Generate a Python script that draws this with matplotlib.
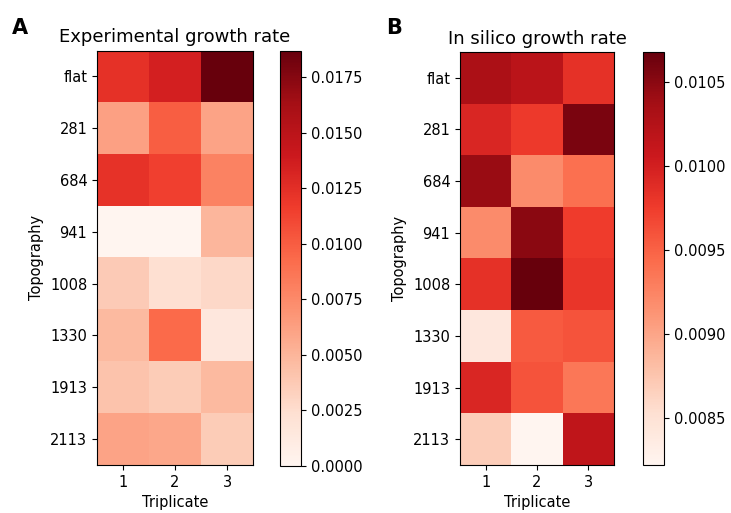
import numpy as np
import matplotlib
matplotlib.use("Agg")
import matplotlib.pyplot as plt

topographies = ["flat", "281", "684", "941", "1008", "1330", "1913", "2113"]
triplicates = ["1", "2", "3"]

# experimental growth rate, rows = topography, cols = triplicate
exp_rate = [
    [0.0123, 0.0135, 0.0187],
    [0.0062, 0.0099, 0.0060],
    [0.0122, 0.0114, 0.0079],
    [0.0000, 0.0000, 0.0049],
    [0.0037, 0.0023, 0.0028],
    [0.0047, 0.0093, 0.0015],
    [0.0041, 0.0036, 0.0047],
    [0.0060, 0.0058, 0.0036],
]

# in silico growth rate
sim_rate = [
    [0.01031, 0.01019, 0.00984],
    [0.00994, 0.00977, 0.01058],
    [0.01043, 0.00920, 0.00940],
    [0.00920, 0.01050, 0.00975],
    [0.00984, 0.01068, 0.00980],
    [0.00842, 0.00955, 0.00960],
    [0.00994, 0.00960, 0.00935],
    [0.00869, 0.00822, 0.01016],
]

plt.rcParams['font.size'] = 10.5

fig = plt.figure(figsize=(7.31, 5.13), dpi=100)
W, H = 731.0, 513.0

def px(x0, y0, x1, y1):
    return [x0/W, 1 - y1/H, (x1 - x0)/W, (y1 - y0)/H]

panels = [
    (exp_rate, "Experimental growth rate", "A", px(97, 50.5, 253, 465), px(280, 50.5, 301, 466), 12),
    (sim_rate, "In silico growth rate", "B", px(460, 52, 614, 465), px(643, 52, 664, 465), 386),
]

for data, title, letter, axpos, cpos, lx in panels:
    arr = np.array(data)
    ax = fig.add_axes(axpos)
    im = ax.imshow(arr, cmap="Reds", aspect="auto", interpolation="nearest")
    ax.set_xticks(range(len(triplicates)))
    ax.set_xticklabels(triplicates)
    ax.set_yticks(range(len(topographies)))
    ax.set_yticklabels(topographies)
    ax.set_xlabel("Triplicate", labelpad=4)
    ax.set_ylabel("Topography", labelpad=4)
    ax.set_title(title, fontsize=13, pad=6)
    cax = fig.add_axes(cpos)
    fig.colorbar(im, cax=cax)
    fig.text(lx/W, 1 - 28.5/H, letter, fontsize=15, fontweight="bold", va="center", ha="left")

fig.savefig("out.png", dpi=100)
